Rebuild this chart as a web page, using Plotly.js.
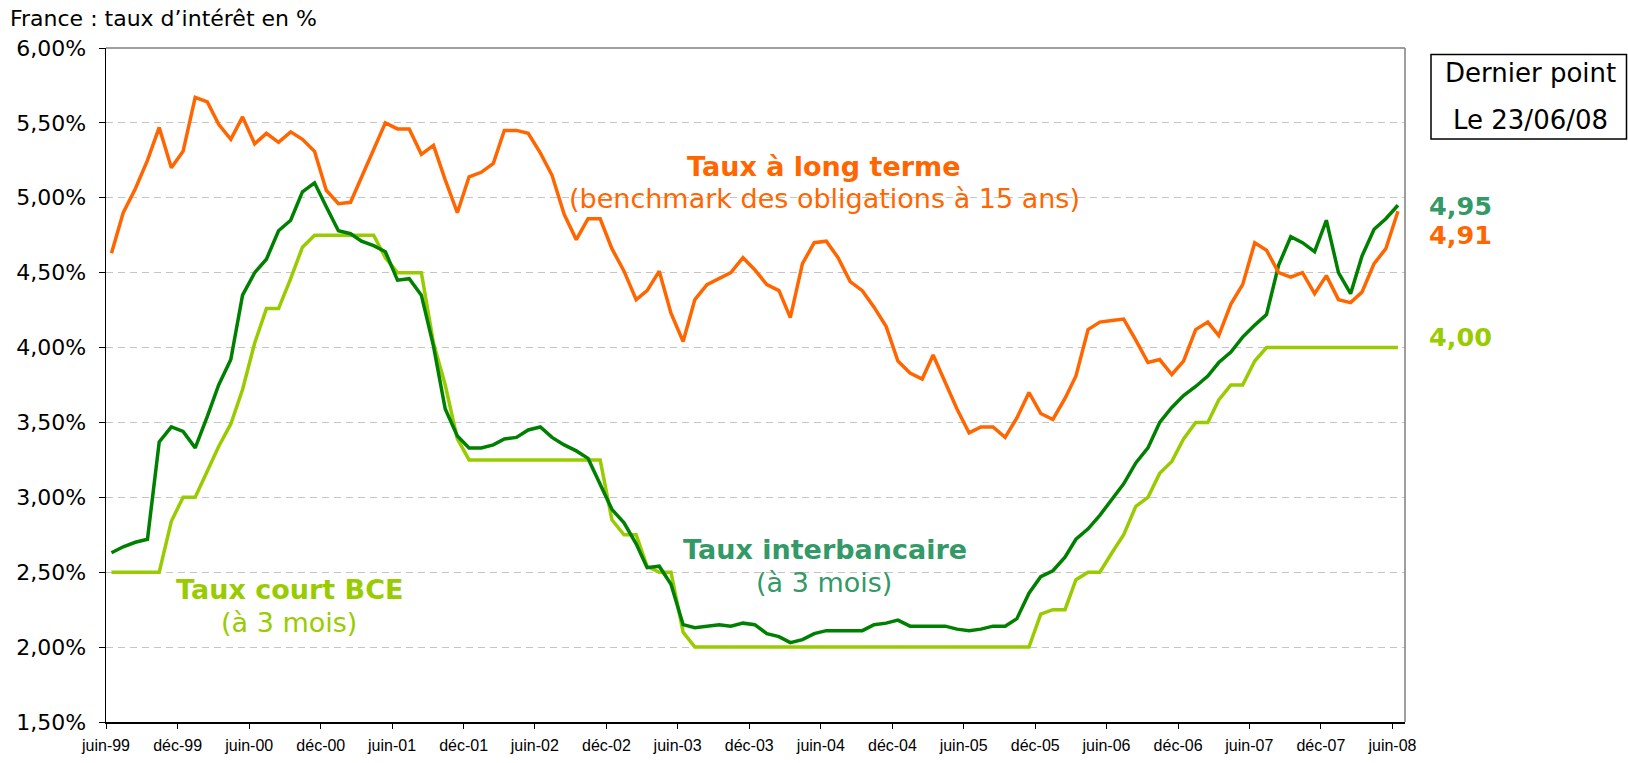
<!DOCTYPE html>
<html><head><meta charset="utf-8">
<script src="https://cdn.plot.ly/plotly-3.0.1.min.js"></script>
<style>html,body{margin:0;padding:0;background:#fff;} #chart{width:1628px;height:763px;}</style>
</head><body><div id="chart"></div>
<script>
// Monthly series, June 1999 -> June 2008 (last point 23/06/08)
const startYear = 1999, startMonth = 6;

const longTerm = [
 4.63,4.90,5.06,5.25,5.47,5.20,5.31,5.67,5.64,5.49,5.39,5.54,
 5.36,5.43,5.37,5.44,5.39,5.31,5.05,4.96,4.97,5.14,5.32,5.50,
 5.46,5.46,5.29,5.35,5.12,4.90,5.14,5.17,5.23,5.45,5.45,5.43,
 5.30,5.15,4.89,4.72,4.86,4.86,4.66,4.51,4.32,4.38,4.51,4.23,
 4.04,4.32,4.42,4.46,4.50,4.60,4.52,4.42,4.38,4.20,4.56,4.70,
 4.71,4.60,4.44,4.38,4.27,4.14,3.91,3.83,3.79,3.95,3.77,3.59,
 3.43,3.47,3.47,3.40,3.53,3.70,3.56,3.52,3.66,3.81,4.12,4.17,
 4.18,4.19,4.05,3.90,3.92,3.82,3.91,4.12,4.17,4.08,4.29,4.42,
 4.70,4.65,4.50,4.47,4.50,4.36,4.48,4.32,4.30,4.37,4.56,4.66,
 4.91
];

const interbank = [
 2.63,2.67,2.70,2.72,3.37,3.47,3.44,3.33,3.54,3.75,3.92,4.35,
 4.50,4.59,4.78,4.85,5.04,5.10,4.94,4.78,4.76,4.71,4.68,4.64,
 4.45,4.46,4.35,4.01,3.59,3.41,3.33,3.33,3.35,3.39,3.40,3.45,
 3.47,3.40,3.35,3.31,3.26,3.09,2.92,2.83,2.69,2.53,2.54,2.42,
 2.15,2.13,2.14,2.15,2.14,2.16,2.15,2.09,2.07,2.03,2.05,2.09,
 2.11,2.11,2.11,2.11,2.15,2.16,2.18,2.14,2.14,2.14,2.14,2.12,
 2.11,2.12,2.14,2.14,2.19,2.36,2.47,2.51,2.60,2.72,2.79,2.88,
 2.99,3.09,3.23,3.33,3.50,3.60,3.68,3.74,3.81,3.90,3.97,4.07,
 4.15,4.22,4.55,4.74,4.70,4.64,4.85,4.50,4.36,4.61,4.79,4.86,
 4.95
];

const bceRate = [
 2.50,2.50,2.50,2.50,2.50,2.84,3.00,3.00,3.18,3.34,3.49,3.72,
 4.03,4.26,4.26,4.46,4.67,4.75,4.75,4.75,4.75,4.75,4.75,4.60,
 4.50,4.50,4.50,4.03,3.75,3.39,3.25,3.25,3.25,3.25,3.25,3.25,
 3.25,3.25,3.25,3.25,3.25,3.25,2.85,2.75,2.75,2.54,2.50,2.50,
 2.10,2.00,2.00,2.00,2.00,2.00,2.00,2.00,2.00,2.00,2.00,2.00,
 2.00,2.00,2.00,2.00,2.00,2.00,2.00,2.00,2.00,2.00,2.00,2.00,
 2.00,2.00,2.00,2.00,2.00,2.00,2.22,2.25,2.25,2.45,2.50,2.50,
 2.63,2.75,2.94,3.00,3.16,3.24,3.39,3.50,3.50,3.65,3.75,3.75,
 3.91,4.00,4.00,4.00,4.00,4.00,4.00,4.00,4.00,4.00,4.00,4.00,
 4.00
];

const tickVals = ["1999-06-01","1999-12-01","2000-06-01","2000-12-01","2001-06-01","2001-12-01",
 "2002-06-01","2002-12-01","2003-06-01","2003-12-01","2004-06-01","2004-12-01","2005-06-01",
 "2005-12-01","2006-06-01","2006-12-01","2007-06-01","2007-12-01","2008-06-01"];
const tickText = ["juin-99","déc-99","juin-00","déc-00","juin-01","déc-01","juin-02","déc-02",
 "juin-03","déc-03","juin-04","déc-04","juin-05","déc-05","juin-06","déc-06","juin-07","déc-07","juin-08"];

const lastValues = ["4,95","4,91","4,00"];

// x positions of the monthly points (mid-month)
const dates = [];
for (let i = 0; i < longTerm.length; i++) {
  const m = startMonth - 1 + i;
  const y = startYear + Math.floor(m / 12);
  const mm = (m % 12) + 1;
  dates.push(y + "-" + String(mm).padStart(2, "0") + "-15");
}

const ORANGE = "#FF6600", DKGREEN = "#008000", LTGREEN = "#99CC00", TXTGREEN = "#339966";

// plot-area pixel frame
const L = 106, R = 1405, T = 48, B = 722;
const px = X => (X - L) / (R - L);
const py = Y => (B - Y) / (B - T);

const traces = [
  {x: dates, y: bceRate, type: "scatter", mode: "lines", line: {color: LTGREEN, width: 3.5}, hoverinfo: "skip"},
  {x: dates, y: interbank, type: "scatter", mode: "lines", line: {color: DKGREEN, width: 3.5}, hoverinfo: "skip"},
  {x: dates, y: longTerm, type: "scatter", mode: "lines", line: {color: ORANGE, width: 3.5}, hoverinfo: "skip"}
];

function ann(text, X, Y, color, size, bold, xanchor) {
  return {xref: "paper", yref: "paper", x: px(X), y: py(Y), text: bold ? "<b>" + text + "</b>" : text,
    showarrow: false, xanchor: xanchor || "center", yanchor: "middle",
    font: {family: "DejaVu Sans", size: size, color: color}};
}

const layout = {
  width: 1628, height: 763,
  margin: {l: L, r: 1628 - R, t: T, b: 763 - B},
  paper_bgcolor: "#fff", plot_bgcolor: "#fff",
  showlegend: false,
  separators: ", ",
  font: {family: "DejaVu Sans", color: "#000"},
  title: {text: "France : taux d’intérêt en %", xref: "container", yref: "container",
    x: 10 / 1628, xanchor: "left", y: 1 - 18 / 763, yanchor: "middle",
    font: {family: "DejaVu Sans", size: 22, color: "#000"}},
  xaxis: {type: "date", range: ["1999-06-01", "2008-07-03"], tickmode: "array",
    tickvals: tickVals, ticktext: tickText, ticks: "outside", ticklen: 5, tickwidth: 1, tickcolor: "#000",
    showgrid: false, zeroline: false, showline: true, linecolor: "#000", linewidth: 2,
    tickfont: {family: "Liberation Sans", size: 16, color: "#000"}, ticklabelstandoff: 3},
  yaxis: {range: [1.5, 6.0], tick0: 1.5, dtick: 0.5, tickformat: ".2f", ticksuffix: "%",
    ticks: "outside", ticklen: 6, tickwidth: 1, tickcolor: "#000",
    showgrid: true, gridcolor: "#c4c4c4", gridwidth: 1, griddash: "7px,5px",
    zeroline: false, showline: true, linecolor: "#000", linewidth: 1.5,
    tickfont: {family: "DejaVu Sans", size: 22, color: "#000"}, ticklabelstandoff: 8},
  shapes: [
    {type: "line", xref: "paper", yref: "paper", x0: 0, x1: 1, y0: 1, y1: 1, line: {color: "#7f7f7f", width: 1.5}},
    {type: "line", xref: "paper", yref: "paper", x0: 1, x1: 1, y0: 0, y1: 1, line: {color: "#7f7f7f", width: 1.5}},
    {type: "rect", xref: "paper", yref: "paper", x0: px(1431), x1: px(1626.5), y0: py(139), y1: py(54.5),
      line: {color: "#000", width: 1.5}, fillcolor: "rgba(0,0,0,0)"}
  ],
  annotations: [
    ann("Taux à long terme", 824, 166, ORANGE, 27, true),
    ann("(benchmark des obligations à 15 ans)", 824, 198, ORANGE, 27, false),
    ann("Taux interbancaire", 824.5, 549.5, TXTGREEN, 27, true),
    ann("(à 3 mois)", 824, 582, TXTGREEN, 27, false),
    ann("Taux court BCE", 289.5, 589.5, LTGREEN, 27, true),
    ann("(à 3 mois)", 289, 622, LTGREEN, 27, false),
    ann(lastValues[0], 1426.5, 206, TXTGREEN, 25.5, true, "left"),
    ann(lastValues[1], 1426.5, 235, ORANGE, 25.5, true, "left"),
    ann(lastValues[2], 1426.5, 337, LTGREEN, 25.5, true, "left"),
    ann("Dernier point", 1530.5, 73, "#000", 26, false),
    ann("Le 23/06/08", 1530, 120.5, "#000", 26, false)
  ]
};

Plotly.newPlot("chart", traces, layout, {staticPlot: true, displayModeBar: false});
</script></body></html>
